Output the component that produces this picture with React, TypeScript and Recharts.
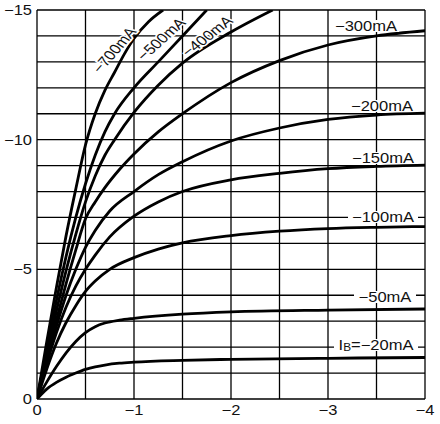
import React from 'react';
import { LineChart, Line, XAxis, YAxis, ReferenceLine } from 'recharts';

// collector-emitter voltage (V) and collector current (A), one pair per base current
const V700 = [0, -0.1, -0.2, -0.3, -0.4, -0.5, -0.6, -0.7, -0.8, -0.9, -1.0, -1.15, -1.3];
const I700 = [0, -2.2, -4.3, -6.3, -8.1, -9.8, -11.0, -11.9, -12.6, -13.3, -13.9, -14.55, -15];

const V500 = [0, -0.1, -0.2, -0.3, -0.4, -0.5, -0.6, -0.7, -0.8, -1.0, -1.25, -1.5, -1.75];
const I500 = [0, -1.9, -3.8, -5.5, -7.0, -8.3, -9.4, -10.3, -11.0, -12.0, -13.0, -14.0, -15];

const V400 = [0, -0.1, -0.2, -0.3, -0.4, -0.5, -0.6, -0.7, -0.8, -1.0, -1.25, -1.5, -2.0, -2.43];
const I400 = [0, -1.75, -3.4, -4.95, -6.35, -7.6, -8.6, -9.4, -10.0, -11.05, -12.1, -12.95, -14.15, -15];

const V300 = [0, -0.1, -0.2, -0.3, -0.4, -0.5, -0.6, -0.7, -0.85, -1.0, -1.25, -1.5, -2.0, -2.5, -3.0, -3.5, -4.0];
const I300 = [0, -1.55, -3.05, -4.45, -5.75, -6.95, -7.6, -8.15, -8.85, -9.45, -10.3, -11.0, -12.2, -13.05, -13.65, -14.0, -14.2];

const V200 = [0, -0.1, -0.2, -0.3, -0.4, -0.5, -0.6, -0.75, -1.0, -1.25, -1.5, -2.0, -2.5, -3.0, -3.5, -4.0];
const I200 = [0, -1.45, -2.8, -4.0, -5.0, -5.85, -6.5, -7.25, -8.0, -8.65, -9.15, -9.95, -10.45, -10.78, -10.95, -11.02];

const V150 = [0, -0.1, -0.2, -0.3, -0.4, -0.5, -0.6, -0.75, -1.0, -1.25, -1.5, -2.0, -2.5, -3.0, -3.5, -4.0];
const I150 = [0, -1.35, -2.55, -3.55, -4.35, -5.0, -5.55, -6.25, -7.05, -7.6, -8.0, -8.45, -8.7, -8.88, -8.97, -9.02];

const V100 = [0, -0.1, -0.2, -0.3, -0.4, -0.5, -0.6, -0.75, -1.0, -1.25, -1.5, -2.0, -2.5, -3.0, -3.5, -4.0];
const I100 = [0, -1.15, -2.15, -2.95, -3.6, -4.15, -4.55, -5.0, -5.45, -5.78, -6.02, -6.3, -6.47, -6.57, -6.62, -6.65];

const V50 = [0, -0.1, -0.2, -0.3, -0.4, -0.5, -0.6, -0.7, -0.85, -1.0, -1.5, -2.0, -3.0, -4.0];
const I50 = [0, -0.65, -1.25, -1.78, -2.22, -2.56, -2.79, -2.93, -3.04, -3.11, -3.27, -3.36, -3.43, -3.47];

const V20 = [0, -0.1, -0.2, -0.3, -0.4, -0.5, -0.6, -0.7, -0.85, -1.0, -1.5, -2.0, -3.0, -4.0];
const I20 = [0, -0.38, -0.64, -0.84, -1.0, -1.14, -1.24, -1.31, -1.38, -1.42, -1.49, -1.53, -1.57, -1.6];

const X_TICKS = [0, -0.5, -1, -1.5, -2, -2.5, -3, -3.5, -4];
const Y_TICKS = [0, -1, -2, -3, -4, -5, -6, -7, -8, -9, -10, -11, -12, -13, -14, -15];

const zip = (v: number[], i: number[]) => v.map((vce, k) => ({ vce, ic: i[k] }));

const curves = [
  zip(V700, I700),
  zip(V500, I500),
  zip(V400, I400),
  zip(V300, I300),
  zip(V200, I200),
  zip(V150, I150),
  zip(V100, I100),
  zip(V50, I50),
  zip(V20, I20),
];

const FONT = '"Liberation Sans", Arial, sans-serif';
const SX = 1.18; // the scan is stretched sideways

const fmt = (v: number) => (v === 0 ? '0' : '\u2212' + Math.abs(v));

const XTick = (props: any) => {
  const { x, y, payload } = props;
  if (!Number.isInteger(payload.value)) return <g />;
  return (
    <text transform={`translate(${x},${y + 16}) scale(${SX},1)`} textAnchor="middle"
      fontFamily={FONT} fontSize={14} fill="#111">
      {fmt(payload.value)}
    </text>
  );
};

const YTick = (props: any) => {
  const { x, y, payload } = props;
  if (payload.value % 5 !== 0) return <g />;
  return (
    <text transform={`translate(${x - 5},${y + 5}) scale(${SX},1)`} textAnchor="end"
      fontFamily={FONT} fontSize={14} fill="#111">
      {fmt(payload.value)}
    </text>
  );
};

const SlantLabel = ({ x, y, a, children }: any) => (
  <text transform={`translate(${x},${y}) scale(${SX},1) rotate(${-a})`} textAnchor="middle"
    dominantBaseline="central" fontFamily={FONT} fontSize={14} fill="#111"
    stroke="#fff" strokeWidth={3} paintOrder="stroke">
    {children}
  </text>
);

const FlatLabel = ({ x, y, w, children }: any) => (
  <g>
    <rect x={x - w / 2 - 2} y={y - 6} width={w + 4} height={12} fill="#fff" />
    <text transform={`translate(${x},${y + 5}) scale(${SX},1)`} textAnchor="middle"
      fontFamily={FONT} fontSize={14} fill="#111">
      {children}
    </text>
  </g>
);

export default function App() {
  return (
    <div style={{ position: 'absolute', left: 0, top: 0, width: 440, height: 424, background: '#fff' }}>
      <LineChart width={440} height={424} margin={{ top: 10, right: 15, left: 0, bottom: 0 }}>
        <XAxis type="number" dataKey="vce" domain={[-4, 0]} reversed ticks={X_TICKS}
          allowDataOverflow height={25} tickLine={false} tickSize={0} tickMargin={0}
          axisLine={false} tick={<XTick />} interval={0} />
        <YAxis type="number" domain={[-15, 0]} reversed ticks={Y_TICKS}
          allowDataOverflow width={37} tickLine={false} tickSize={0} tickMargin={0}
          axisLine={false} tick={<YTick />} interval={0} />
        {Y_TICKS.map((t) => (
          <ReferenceLine key={'h' + t} y={t} stroke="#000" strokeWidth={1.3} />
        ))}
        {X_TICKS.map((t) => (
          <ReferenceLine key={'v' + t} x={t} stroke="#000" strokeWidth={1.3} />
        ))}
        {curves.map((d, k) => (
          <Line key={k} data={d} dataKey="ic" type="monotone" stroke="#000" strokeWidth={2.8}
            dot={false} activeDot={false} isAnimationActive={false} />
        ))}
      </LineChart>
      <svg width={440} height={424} style={{ position: 'absolute', left: 0, top: 0, pointerEvents: 'none' }}>
        <SlantLabel x={114} y={50} a={53.6}>−700mA</SlantLabel>
        <SlantLabel x={161} y={39} a={46.7}>−500mA</SlantLabel>
        <SlantLabel x={207} y={36} a={42.7}>−400mA</SlantLabel>
        <FlatLabel x={366} y={26} w={62}>−300mA</FlatLabel>
        <FlatLabel x={382} y={106} w={62}>−200mA</FlatLabel>
        <FlatLabel x={383} y={158} w={62}>−150mA</FlatLabel>
        <FlatLabel x={383} y={217} w={66}>−100mA</FlatLabel>
        <FlatLabel x={385} y={297} w={58}>−50mA</FlatLabel>
        <FlatLabel x={376} y={345} w={80}>
          <tspan>I</tspan>
          <tspan fontSize={10} dy={1}>B</tspan>
          <tspan dy={-1}>=−20mA</tspan>
        </FlatLabel>
      </svg>
    </div>
  );
}
